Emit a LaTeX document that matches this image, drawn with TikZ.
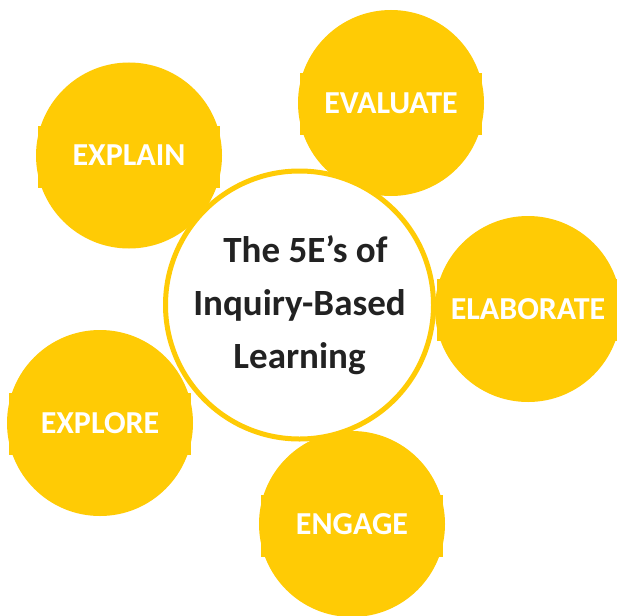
\documentclass[tikz,border=0pt]{standalone}
\usepackage{fontspec}
\setmainfont{Carlito}
\definecolor{yel}{RGB}{255,203,5}
\definecolor{ink}{RGB}{34,34,34}
\begin{document}
\begin{tikzpicture}[x=1pt,y=-1pt,
  sat/.style={circle, fill=yel, minimum size=186pt, inner sep=0pt, text=white,
    font=\bfseries\fontsize{32}{38}\selectfont},
  notch/.style={fill=yel, minimum width=182pt, minimum height=62pt, inner sep=0pt, draw=none},
  hub/.style={circle, fill=white, draw=yel, line width=5pt, minimum size=268pt, inner sep=0pt,
    text=ink, align=center, font=\bfseries\fontsize{37}{53}\selectfont}]
\useasboundingbox (0,0) rectangle (617,615);
\fill[white] (0,0) rectangle (617,615);
\node[notch] (nEV) at (391,104) {};
\node[notch] (nEA) at (528,310) {};
\node[notch] (nEN) at (352,526) {};
\node[notch] (nEO) at (100,424) {};
\node[notch] (nEI) at (129,157) {};
\node[sat] (evaluate) at (391,103) {EVALUATE};
\node[sat] (elaborate) at (528,309) {ELABORATE};
\node[sat] (engage) at (352,524) {ENGAGE};
\node[sat] (explore) at (100,423) {EXPLORE};
\node[sat] (explain) at (129,155.5) {EXPLAIN};
\node[hub] (hub) at (299.5,305) {\hspace{12pt}The 5E’s of\\Inquiry-Based\\Learning};
\end{tikzpicture}
\end{document}
